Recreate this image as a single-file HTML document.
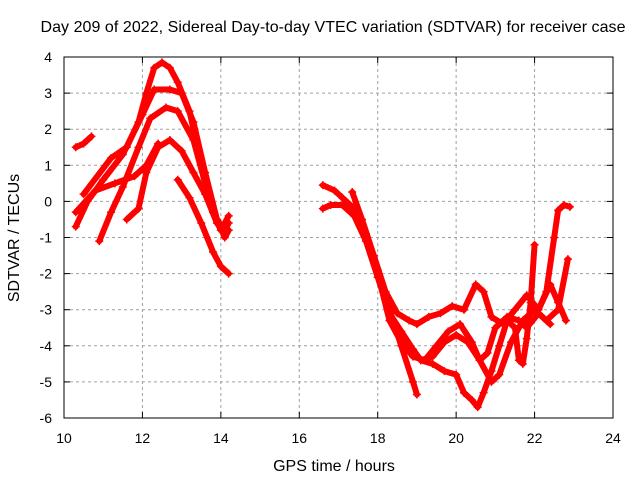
<!DOCTYPE html>
<html><head><meta charset="utf-8"><style>
body{margin:0;background:#fff;}
svg text{font-family:"Liberation Sans",sans-serif;font-size:14px;fill:#000;}
svg text.big{font-size:16px;}
</style></head><body>
<svg id="chart" width="640" height="480">
<text class="big" x="333" y="32" text-anchor="middle" textLength="585">Day 209 of 2022, Sidereal Day-to-day VTEC variation (SDTVAR) for receiver case</text>
<text class="big" x="334" y="471" text-anchor="middle">GPS time / hours</text>
<text class="big" transform="translate(19,238) rotate(-90)" text-anchor="middle">SDTVAR / TECUs</text>
<g id="grid"></g><g id="axes"></g><g id="marks"></g>
<rect x="64" y="57" width="549" height="361" fill="none" stroke="#000" stroke-width="1"/>
</svg>
<script>
const xTicks=[10,12,14,16,18,20,22,24];
const yTicks=[4,3,2,1,0,-1,-2,-3,-4,-5,-6];
const seriesA=[[10.5,0.2],[11.2,1.2],[11.6,1.5],[11.9,2.2],[12.1,3.0],[12.3,3.7],[12.5,3.85],[12.7,3.7],[12.9,3.3],[13.2,2.5],[13.5,1.0],[13.8,-0.3],[14.0,-0.8],[14.2,-0.4]];
const seriesB=[[10.3,-0.7],[10.6,0],[11,0.6],[11.5,1.3],[12,2.4],[12.3,3.1],[12.7,3.1],[13,3.0],[13.3,2.2],[13.6,0.8],[13.9,-0.5],[14.1,-1],[14.2,-0.8]];
const seriesC=[[10.9,-1.1],[11.2,-0.3],[11.5,0.4],[11.9,1.5],[12.2,2.3],[12.6,2.6],[12.9,2.5],[13.3,1.7],[13.6,0.5],[13.9,-0.5],[14.1,-0.8],[14.2,-0.6]];
const seriesD=[[11.6,-0.5],[11.9,-0.2],[12.1,0.8],[12.4,1.5],[12.7,1.7],[13,1.4],[13.3,0.8],[13.6,0.2],[13.9,-0.6],[14.1,-0.9]];
const seriesE=[[10.3,-0.3],[10.8,0.3],[11.3,0.5],[11.8,0.7],[12.1,1.0],[12.4,1.6]];
const seriesF=[[12.9,0.6],[13.2,0.1],[13.5,-0.6],[13.8,-1.4],[14.0,-1.8],[14.2,-2.0]];
const seriesG=[[10.3,1.5],[10.5,1.6],[10.7,1.8]];
const seriesP1=[[16.6,0.45],[16.9,0.3],[17.1,0.1],[17.4,-0.2],[17.7,-0.9],[18.0,-1.9],[18.3,-3.0],[18.6,-4.0],[18.9,-5.0],[19.0,-5.35]];
const seriesP2=[[16.6,-0.2],[16.8,-0.1],[17.1,-0.1],[17.4,-0.4],[17.7,-1.1],[18.0,-2.1],[18.3,-3.1],[18.6,-3.6],[18.9,-4.1],[19.1,-4.4],[19.4,-4.3],[19.7,-3.9],[20.0,-3.7],[20.3,-3.9],[20.6,-4.4],[20.9,-5.0],[21.1,-4.8],[21.4,-3.9],[21.7,-3.3],[22.0,-3.0],[22.3,-3.3],[22.6,-3.0],[22.85,-1.6]];
const seriesP3=[[17.35,0.26],[17.6,-0.5],[17.9,-1.5],[18.2,-2.5],[18.5,-3.1],[18.8,-3.3],[19.0,-3.4],[19.3,-3.2],[19.6,-3.1],[19.9,-2.9],[20.2,-3.0],[20.5,-2.3],[20.7,-2.5],[20.9,-3.2],[21.2,-3.4],[21.5,-3.0],[21.8,-2.6],[22.1,-3.0],[22.4,-2.3],[22.6,-2.8],[22.8,-3.3]];
const seriesP4=[[18.0,-2.0],[18.3,-3.3],[18.6,-3.9],[18.9,-4.3],[19.2,-4.4],[19.5,-4.0],[19.8,-3.6],[20.1,-3.4],[20.4,-3.9],[20.6,-4.4],[20.8,-4.2],[21.0,-3.5],[21.3,-3.2],[21.6,-3.3],[21.8,-3.5],[22.1,-3.1],[22.4,-3.4]];
const seriesP5=[[19.1,-4.4],[19.4,-4.5],[19.7,-4.7],[20.0,-4.8],[20.2,-5.3],[20.4,-5.5],[20.55,-5.7],[20.7,-5.3],[20.9,-4.7],[21.1,-4.0],[21.3,-3.3],[21.5,-3.5],[21.6,-4.4],[21.7,-4.5],[21.8,-3.8],[21.9,-2.8],[22.0,-1.2]];
const seriesP6=[[22.1,-3.0],[22.3,-2.5],[22.5,-1.0],[22.6,-0.25],[22.75,-0.1],[22.9,-0.15]];
const allSeries=[seriesA,seriesB,seriesC,seriesD,seriesE,seriesF,seriesG,seriesP1,seriesP2,seriesP3,seriesP4,seriesP5,seriesP6];
const NS="http://www.w3.org/2000/svg";
function xs(v){return 64+(v-10)*549/14;}
function ys(v){return 57+(4-v)*361/10;}
function mk(tag,attrs,parent){const e=document.createElementNS(NS,tag);for(const k in attrs)e.setAttribute(k,attrs[k]);parent.appendChild(e);return e;}
const grid=document.getElementById('grid'),axes=document.getElementById('axes'),marks=document.getElementById('marks');
xTicks.forEach(t=>{const x=xs(t);
 if(t>10&&t<24){const g=mk('line',{x1:x,x2:x,y1:57,y2:418,stroke:'#a0a0a0','stroke-dasharray':'3,3'},grid);
 
 }
 mk('line',{x1:x,x2:x,y1:418,y2:412,stroke:'#000'},axes);mk('line',{x1:x,x2:x,y1:57,y2:63,stroke:'#000'},axes);
 const tx=mk('text',{x:x,y:443,'text-anchor':'middle'},axes);tx.textContent=t;
 
 });
yTicks.forEach(t=>{const y=ys(t);
 if(t<4&&t>-6){const g=mk('line',{x1:64,x2:613,y1:y,y2:y,stroke:'#a0a0a0','stroke-dasharray':'3,3'},grid);
 
 }
 mk('line',{x1:64,x2:70,y1:y,y2:y,stroke:'#000'},axes);mk('line',{x1:613,x2:607,y1:y,y2:y,stroke:'#000'},axes);
 const tx=mk('text',{x:52,y:y+5,'text-anchor':'end'},axes);tx.textContent=t;
 
 });
allSeries.forEach((s,i)=>{
 const pl=mk('polyline',{points:s.map(p=>xs(p[0])+','+ys(p[1])).join(' '),fill:'none',stroke:'#ff0000','stroke-width':6,'stroke-linejoin':'round','stroke-linecap':'round'},marks);
 
 
 s.forEach(p=>{const x=xs(p[0]),y=ys(p[1]);
  const m=mk('path',{d:`M${x-4},${y}H${x+4}M${x},${y-4}V${y+4}`,stroke:'#ff0000','stroke-width':1.5},marks);
  
  });
});
</script>
</body></html>
